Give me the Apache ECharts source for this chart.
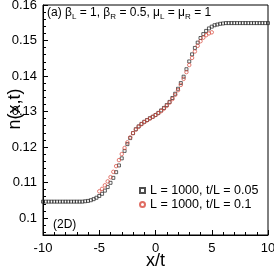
<!DOCTYPE html>
<html><head><meta charset="utf-8">
<script src="https://cdn.jsdelivr.net/npm/echarts@6/dist/echarts.min.js"></script>
<style>html,body{margin:0;padding:0;background:#fff}#c{width:274px;height:274px}</style>
</head><body><div id="c"></div>
<script>
const xTicks = [-10, -5, 0, 5, 10];
const yTicks = [0.10, 0.11, 0.12, 0.13, 0.14, 0.15, 0.16];
const seriesNames = ['L = 1000, t/L = 0.05', 'L = 1000, t/L = 0.1'];

const xBlack = [-10,-9.75,-9.5,-9.25,-9,-8.75,-8.5,-8.25,-8,-7.75,-7.5,-7.25,-7,-6.75,-6.5,
 -6.25,-6,-5.75,-5.5,-5.25,-5,-4.75,-4.5,-4.25,-4,-3.75,-3.5,-3.25,-3,-2.75,-2.5,-2.25,-2,-1.75,-1.5,-1.25,-1,-0.75,-0.5,-0.25,
 0,0.25,0.5,0.75,1,1.25,1.5,1.75,2,2.25,2.5,2.75,3,3.25,3.5,3.75,4,4.25,4.5,4.75,5,5.25,5.5,5.75,6,6.25,
 6.5,6.75,7,7.25,7.5,7.75,8,8.25,8.5,8.75,9,9.25,9.5,9.75,10];
const yBlack = [0.1046,0.1046,0.1046,0.1046,0.1046,0.1046,0.1046,0.1046,0.1046,0.1046,0.1046,0.1046,0.1046,0.1046,0.1046,
 0.1047,0.1048,0.1050,0.1053,0.1057,0.1062,0.1068,0.1077,0.1087,0.1099,0.1113,0.1129,0.1148,0.1168,0.1189,0.1208,0.1225,0.1239,0.1250,0.1258,0.1265,0.1271,0.1276,0.1281,0.1285,
 0.1290,0.1296,0.1303,0.1310,0.1318,0.1327,0.1338,0.1350,0.1364,0.1380,0.1398,0.1419,0.1441,0.1461,0.1479,0.1494,0.1507,0.1518,0.1527,0.1534,0.1539,0.1543,0.1545,0.1547,0.1548,0.1549,
 0.1549,0.1549,0.1549,0.1549,0.1549,0.1549,0.1549,0.1549,0.1549,0.1549,0.1549,0.1549,0.1549,0.1549,0.1549];

const xRed = [-5,-4.75,-4.5,-4.25,-4,-3.75,-3.5,-3.25,-3,-2.75,-2.5,-2.25,-2,-1.75,-1.5,-1.25,-1,-0.75,-0.5,-0.25,
 0,0.25,0.5,0.75,1,1.25,1.5,1.75,2,2.25,2.5,2.75,3,3.25,3.5,3.75,4,4.25,4.5,4.75,5];
const yRed = [0.1075,0.1082,0.1092,0.1103,0.1115,0.1130,0.1146,0.1163,0.1180,0.1197,0.1213,0.1227,0.1239,0.1249,0.1257,0.1264,0.1270,0.1275,0.1280,0.1285,
 0.1290,0.1295,0.1301,0.1308,0.1316,0.1325,0.1335,0.1347,0.1360,0.1375,0.1392,0.1411,0.1431,0.1451,0.1469,0.1485,0.1498,0.1508,0.1515,0.1520,0.1523];

const pair = (xs, ys) => xs.map((x, i) => [x, ys[i]]);
const FONT = 'Liberation Sans, Arial, sans-serif';
const RED = '#d8483c';

const chart = echarts.init(document.getElementById('c'), null, {renderer: 'canvas'});
chart.setOption({
  animation: false,
  backgroundColor: '#fff',
  grid: {left: 43, right: 6, top: 5, bottom: 39, containLabel: false, outerBoundsMode: 'none',
         show: true, borderColor: '#000', borderWidth: 1, backgroundColor: 'transparent'},
  xAxis: {
    type: 'value', min: -10, max: 10, interval: 5,
    axisLine: {show: true, onZero: false, lineStyle: {color: '#000', width: 1}},
    axisTick: {show: true, inside: true, length: 5, lineStyle: {color: '#000'}},
    minorTick: {show: true, splitNumber: 5, length: 3, lineStyle: {color: '#000'}},
    splitLine: {show: false},
    axisLabel: {color: '#000', fontSize: 13, fontFamily: FONT, margin: 7, customValues: xTicks},
    name: 'x/t', nameLocation: 'middle', nameGap: 17, nameMoveOverlap: false,
    nameTextStyle: {color: '#000', fontSize: 18, fontFamily: FONT}
  },
  yAxis: {
    type: 'value', min: 0.0952, max: 0.16, splitNumber: 6,
    axisLine: {show: true, onZero: false, lineStyle: {color: '#000', width: 1}},
    axisTick: {show: true, inside: true, length: 5, lineStyle: {color: '#000'}, customValues: yTicks},
    minorTick: {show: true, splitNumber: 5, length: 3, lineStyle: {color: '#000'}},
    splitLine: {show: false},
    axisLabel: {color: '#000', fontSize: 13, fontFamily: FONT, margin: 6, customValues: yTicks,
      formatter: v => (Math.round(v * 100) / 100).toString()}
  },
  legend: {
    orient: 'vertical', left: 134, top: 179, itemGap: 1,
    itemWidth: 5, itemHeight: 5,
    textStyle: {color: '#000', fontSize: 12.5, fontFamily: FONT},
    data: seriesNames
  },
  graphic: [
    {type: 'text', x: 15, y: 109, rotation: Math.PI / 2, style: {
      text: 'n(x,t)', fill: '#000', font: '18px ' + FONT, align: 'center', verticalAlign: 'middle'
    }},
    {type: 'text', left: 47, top: 7, style: {
      text: '(a) β{s|L} = 1, β{s|R} = 0.5, μ{s|L} = μ{s|R} = 1',
      fill: '#000', font: '12px ' + FONT,
      rich: {s: {fontSize: 8, fontFamily: FONT, fill: '#000', padding: [7, 0, 0, 0]}}
    }},
    {type: 'text', left: 53, top: 219, style: {text: '(2D)', fill: '#000', font: '12px ' + FONT}}
  ],
  series: [
    {name: seriesNames[0], type: 'scatter', symbol: 'rect', symbolSize: 3,
     itemStyle: {color: 'rgba(0,0,0,0)', borderColor: '#222', borderWidth: 0.9},
     data: pair(xBlack, yBlack), z: 2},
    {name: seriesNames[1], type: 'scatter', symbol: 'circle', symbolSize: 3.5,
     itemStyle: {color: 'rgba(0,0,0,0)', borderColor: RED, borderWidth: 0.9},
     data: pair(xRed, yRed), z: 3}
  ]
});
</script></body></html>
